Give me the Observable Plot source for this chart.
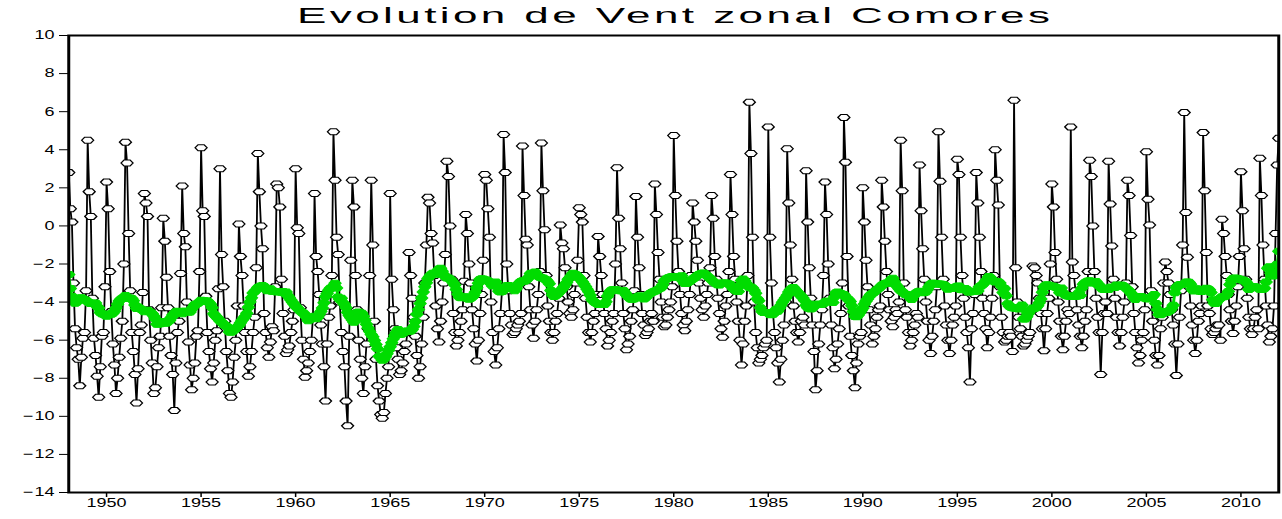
<!DOCTYPE html>
<html><head><meta charset="utf-8">
<script src="https://cdn.jsdelivr.net/npm/d3@7"></script>
<script src="https://cdn.jsdelivr.net/npm/@observablehq/plot@0.6"></script>
<style>
html,body{margin:0;padding:0;background:#fff;}
#wrap{position:relative;width:1282px;height:519px;overflow:hidden;background:#fff;}
#title{position:absolute;left:0;top:0;white-space:nowrap;font-family:"Liberation Sans",Arial,sans-serif;font-size:22px;line-height:22px;color:#000;transform-origin:0 0;z-index:2;}
</style></head><body>
<div id="wrap"><div id="title">Evolution de Vent zonal Comores</div></div>
<script>
// Monthly zonal wind (m/s) at the Comoros, January 1948 to January 2012 (one row per year, Jan..Dec)
const startYear = 1948;
const u1940s = [
  2.8, 0.9, 0.2, -3.0, -5.4, -6.4, -7.0, -8.4, -6.9, -5.9, -5.6, -3.4,
  4.5, 1.8, 0.5, -3.8, -5.9, -6.8, -7.9, -9.0, -7.4, -5.8, -5.6, -3.2
];
const u1950s = [
  2.3, 0.9, -2.4, -4.5, -6.2, -7.3, -8.8, -8.0, -6.9, -5.9, -5.0, -2.0,
  4.4, 3.3, -0.4, -3.4, -5.6, -6.6, -7.8, -9.3, -7.5, -5.6, -5.2, -3.5,
  1.7, 1.2, 0.5, -4.4, -6.0, -7.2, -8.8, -8.5, -7.4, -6.4, -5.8, -4.3,
  0.4, -0.8, -2.7, -4.3, -5.8, -6.8, -7.8, -9.7, -7.2, -5.6, -5.0, -2.5,
  2.1, -0.4, -1.1, -4.0, -6.1, -7.3, -8.6, -8.0, -7.2, -5.8, -5.5, -2.4,
  4.1, 0.8, 0.5, -3.7, -5.6, -6.6, -7.5, -8.2, -7.2, -6.0, -5.5, -3.3,
  3.0, -1.5, -3.2, -5.0, -6.6, -7.6, -8.8, -9.0, -8.2, -6.9, -6.0, -4.2,
  0.1, -1.6, -2.6, -4.2, -5.6, -6.6, -7.9, -7.4, -6.6, -5.6, -4.8, -2.2,
  3.8, 1.8, 0.0, -1.2, -4.6, -5.6, -6.4, -6.9, -6.1, -5.3, -5.5, -3.2,
  2.2, 2.0, 1.0, -2.8, -4.6, -5.8, -6.7, -6.5, -6.3, -5.6, -5.0, -4.4
];
const u1960s = [
  3.0, -0.1, -0.4, -4.3, -6.0, -7.0, -7.95, -7.6, -7.2, -6.6, -6.0, -4.8,
  1.7, -1.6, -2.4, -3.6, -5.2, -6.2, -7.4, -9.2, -6.2, -4.8, -4.2, -2.6,
  4.95, 2.4, -0.6, -1.5, -4.0, -5.6, -6.6, -7.4, -9.2, -10.5, -5.8, -1.8,
  2.4, 1.0, -2.6, -4.4, -6.0, -7.0, -8.0, -8.8, -7.4, -6.2, -5.4, -2.6,
  2.4, -1.0, -5.0, -7.0, -8.4, -9.2, -9.9, -10.1, -9.8, -8.8, -8.0, -7.4,
  1.7, -2.8, -4.4, -5.4, -6.4, -7.0, -7.8, -7.6, -7.2, -6.6, -6.2, -5.6,
  -1.4, -2.6, -3.8, -4.8, -5.8, -6.8, -8.0, -7.4, -6.2, -4.8, -3.0, -1.0,
  1.5, 1.2, -0.4, -0.9, -2.6, -4.2, -5.4, -6.1, -5.0, -4.0, -3.0, -1.5,
  3.4, 2.6, 0.0, -2.8, -4.6, -5.6, -6.3, -6.0, -5.6, -5.0, -4.4, -2.9,
  0.6, -0.4, -2.0, -3.0, -4.4, -5.4, -6.2, -7.1, -6.0, -4.6, -3.6, -1.8
];
const u1970s = [
  2.7, 2.4, 0.9, -0.6, -4.0, -5.6, -6.6, -7.3, -6.4, -5.4, -4.6, -3.4,
  4.8, 2.8, -2.0, -3.4, -4.6, -5.2, -5.7, -5.6, -5.4, -5.2, -5.0, -4.6,
  4.2, 1.6, -0.7, -1.0, -3.2, -4.4, -5.2, -5.9, -5.0, -4.4, -3.6, -2.4,
  4.35, 1.85, -0.2, -2.6, -4.2, -5.0, -5.6, -6.0, -5.6, -5.0, -4.6, -3.8,
  0.05, -0.9, -1.2, -2.2, -3.2, -4.0, -4.6, -4.8, -4.4, -3.6, -3.0, -1.8,
  0.95, 0.6, 0.2, -2.6, -3.8, -4.8, -5.6, -6.1, -5.6, -5.0, -4.6, -3.6,
  -0.55, -1.6, -2.6, -3.6, -4.6, -5.4, -6.3, -6.0, -5.6, -5.0, -4.6, -2.0,
  3.05, 0.4, -1.2, -3.0, -4.6, -5.4, -6.5, -6.2, -5.8, -5.0, -4.4, -3.4,
  1.55, -0.6, -2.2, -3.6, -4.6, -5.2, -5.75, -5.6, -5.4, -5.0, -4.6, -5.0,
  2.2, 0.6, -1.4, -2.8, -4.0, -4.8, -5.3, -5.2, -4.8, -4.4, -4.0, -3.2
];
const u1980s = [
  4.75, 1.6, -0.8, -2.4, -3.6, -4.6, -5.2, -5.5, -5.0, -4.4, -3.6, -2.6,
  1.2, 0.2, -0.8, -1.8, -3.0, -3.8, -4.4, -4.8, -4.2, -3.6, -3.0, -2.2,
  1.6, 0.4, -1.6, -2.8, -3.8, -4.6, -5.4, -5.85, -5.0, -4.2, -3.6, -2.4,
  2.7, 0.6, -1.6, -2.8, -4.0, -5.0, -6.0, -7.3, -6.2, -5.0, -4.2, -2.6,
  6.5, 3.8, -0.6, -4.0, -5.6, -6.4, -7.2, -7.0, -6.8, -6.4, -6.2, -6.0,
  5.2, -0.6, -3.0, -4.6, -5.6, -6.4, -7.2, -8.2, -7.0, -6.0, -5.2, -4.0,
  4.05, 1.2, -1.0, -2.8, -4.2, -5.0, -5.6, -6.1, -5.6, -5.0, -4.8, -5.2,
  2.9, 0.2, -2.2, -3.8, -5.2, -6.6, -8.6, -7.6, -6.2, -5.2, -4.4, -2.6,
  2.3, 0.6, -2.0, -3.8, -5.2, -6.4, -7.5, -7.0, -6.2, -5.4, -4.6, -3.0,
  5.7, 3.35, -1.6, -4.2, -5.8, -6.8, -7.6, -8.5, -7.2, -6.2, -5.8, -5.6
];
const u1990s = [
  2.0, 0.2, -1.8, -3.2, -4.4, -5.2, -6.2, -5.8, -5.4, -4.8, -4.4, -4.2,
  2.4, 1.0, -0.8, -2.4, -3.6, -4.4, -5.0, -5.3, -4.8, -4.4, -4.6, -4.0,
  4.5, 1.85, -3.0, -4.4, -4.8, -5.6, -6.3, -6.0, -5.6, -5.2, -4.6, -4.8,
  3.2, 0.8, -1.2, -2.8, -4.0, -5.0, -6.0, -6.7, -5.8, -5.0, -4.4, -3.2,
  4.95, 2.35, -0.6, -2.8, -4.2, -5.2, -6.0, -6.7, -6.0, -5.2, -4.8, -4.2,
  3.5, 2.7, -0.6, -2.6, -3.8, -4.8, -5.6, -6.4, -8.2, -5.4, -4.6, -3.6,
  2.8, 1.2, -0.6, -2.4, -3.8, -4.6, -5.4, -6.4, -5.6, -4.8, -3.8, -2.6,
  4.0, 2.4, 1.1, -3.2, -4.8, -5.6, -6.1, -6.0, -5.8, -5.6, -5.8, -6.6,
  6.6, -2.2, -4.0, -4.8, -5.4, -5.8, -6.3, -6.2, -6.0, -5.8, -5.6, -4.4,
  -2.1, -2.2, -2.6, -3.0, -3.8, -4.6, -5.4, -6.55, -5.4, -4.6, -3.8, -2.0
];
const u2000s = [
  2.2, 1.0, -1.4, -2.8, -4.0, -5.0, -5.8, -6.5, -5.8, -5.0, -4.4, -4.6,
  5.2, -1.9, -2.6, -3.4, -4.4, -5.2, -5.8, -6.4, -5.8, -5.0, -4.4, -2.4,
  3.45, 2.6, 0.0, -2.4, -3.8, -4.8, -5.6, -7.8, -5.6, -4.6, -4.0, -4.6,
  3.4, 1.15, -1.05, -2.8, -3.8, -4.8, -5.6, -6.3, -5.6, -4.8, -4.0, -3.0,
  2.4, 1.6, -0.5, -3.2, -4.6, -5.6, -6.4, -7.2, -6.8, -6.0, -5.6, -4.4,
  3.9, 1.4, 0.05, -3.4, -5.0, -6.0, -6.8, -7.3, -6.8, -5.4, -4.8, -3.0,
  -1.9, -2.4, -3.0, -3.6, -4.4, -5.2, -6.2, -7.85, -6.2, -4.8, -3.4, -1.0,
  5.95, 0.7, -1.65, -3.0, -4.2, -5.2, -6.0, -6.7, -6.0, -5.0, -4.6, -4.2,
  4.9, 1.85, -1.4, -4.2, -4.6, -5.4, -5.7, -5.6, -5.4, -5.2, -5.2, -6.0,
  0.35, -0.4, -1.6, -2.6, -3.6, -4.4, -5.0, -5.65, -5.0, -4.2, -3.2, -1.6
];
const u2010s = [
  2.85, 0.8, -1.2, -2.8, -3.8, -4.8, -5.4, -5.7, -5.4, -4.8, -4.4, -5.4,
  3.55, 1.6, -1.0, -2.8, -4.2, -5.2, -6.1, -5.8, -5.4, -4.2, -0.4, 3.2,
  4.6
];
const yTicks = [-14, -12, -10, -8, -6, -4, -2, 0, 2, 4, 6, 8, 10];
const xTicks = [1950, 1955, 1960, 1965, 1970, 1975, 1980, 1985, 1990, 1995, 2000, 2005, 2010];
const titleText = "Evolution de Vent zonal Comores";
const blackColor = "#000000";
const greenColor = "#00dc00";

const values = [].concat(u1940s, u1950s, u1960s, u1970s, u1980s, u1990s, u2000s, u2010s);
const data = values.map((u, i) => ({t: startYear + i / 12, u}));

// horizontally stretched output, like the reference image
const W = 855, H = 519, S = 1282 / W;
const hex = {
  draw(ctx) {
    ctx.moveTo(-4, 0); ctx.lineTo(-2, -3); ctx.lineTo(2, -3);
    ctx.lineTo(4, 0); ctx.lineTo(2, 3); ctx.lineTo(-2, 3); ctx.closePath();
  }
};
const win = {k: 12, reduce: "mean"};

const chart = Plot.plot({
  width: W, height: H,
  marginLeft: 68 / S, marginRight: 4 / S, marginTop: 35, marginBottom: 27,
  style: {fontFamily: "'Liberation Sans', Arial, sans-serif", fontSize: "12px", color: "#000", background: "#fff", overflow: "visible"},
  x: {domain: [1948, 2012], ticks: xTicks, tickFormat: d => String(d), tickSize: 5, tickPadding: 1, label: null},
  y: {domain: [-14, 10], ticks: yTicks, tickSize: 6, tickPadding: 3.5, label: null,
      tickFormat: d => d < 0 ? "\u2212\u200A" + Math.abs(d) : String(d)},
  marks: [
    Plot.line(data, {x: "t", y: "u", stroke: blackColor, strokeWidth: 1.2, clip: true}),
    Plot.dot(data, {x: "t", y: "u", symbol: hex, fill: "#fff", stroke: blackColor, strokeWidth: 1, clip: true}),
    Plot.line(data, Plot.windowY(win, {x: "t", y: "u", stroke: greenColor, strokeWidth: 2, clip: true})),
    Plot.dot(data, Plot.windowY(win, {x: "t", y: "u", symbol: hex, fill: greenColor, stroke: greenColor, strokeWidth: 1, clip: true})),
    Plot.frame({stroke: blackColor, strokeWidth: 2})
  ]
});
chart.setAttribute("preserveAspectRatio", "none");
chart.style.width = "1282px";
chart.style.height = "519px";
chart.style.maxWidth = "none";
chart.style.display = "block";
const wrap = document.getElementById("wrap");
wrap.insertBefore(chart, wrap.firstChild);

// title: stretched like the original lettering
const title = document.getElementById("title");
const sx = 2.0, target = 753;
const w0 = title.getBoundingClientRect().width;
const ls = Math.max(0, (target / sx - w0) / (titleText.length - 1));
title.style.letterSpacing = ls + "px";
title.style.transform = `translate(297px, 5px) scaleX(${sx})`;
</script>
</body></html>
